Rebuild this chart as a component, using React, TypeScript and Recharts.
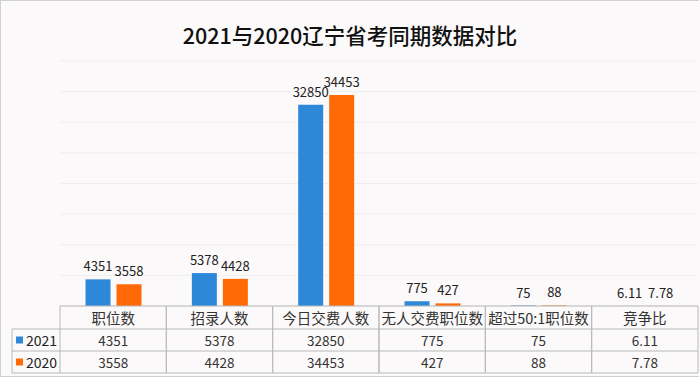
import React from 'react';
import { BarChart, Bar, XAxis, YAxis, CartesianGrid, LabelList } from 'recharts';

const categories = ['职位数', '招录人数', '今日交费人数', '无人交费职位数', '超过50:1职位数', '竞争比'];
const values2021 = [4351, 5378, 32850, 775, 75, 6.11];
const values2020 = [3558, 4428, 34453, 427, 88, 7.78];
const seriesNames = ['2021', '2020'];
const yTicks = [0, 5000, 10000, 15000, 20000, 25000, 30000, 35000, 40000];
const title = '2021与2020辽宁省考同期数据对比';

const data = categories.map((c, i) => ({ name: c, y2021: values2021[i], y2020: values2020[i] }));

const W = 700;
const H = 377;
const M = { top: 61, right: 2, left: 60, bottom: 0 };
const AXIS_H = 71;
const COL_W = (W - M.left - M.right) / categories.length;
const BLUE = '#2E88DA';
const ORANGE = '#FF6A07';
const LINE = '#b9b9b9';
const FONT = '"Noto Sans CJK SC", "Noto Sans", sans-serif';

const TableTick = (props: any) => {
  const { x, payload, index } = props;
  const top = H - AXIS_H;
  const r1 = top + 23;
  const r2 = r1 + 22;
  const r3 = r2 + 22;
  const l = x - COL_W / 2;
  const r = x + COL_W / 2;
  const i = payload.index ?? index;
  return (
    <g fontFamily={FONT}>
      <line x1={l} y1={top} x2={r} y2={top} stroke={LINE} />
      <line x1={l} y1={r1} x2={r} y2={r1} stroke={LINE} />
      <line x1={l} y1={r2} x2={r} y2={r2} stroke={LINE} />
      <line x1={l} y1={r3} x2={r} y2={r3} stroke={LINE} />
      <line x1={l} y1={top} x2={l} y2={r3} stroke={LINE} />
      <line x1={r} y1={top} x2={r} y2={r3} stroke={LINE} />
      <text x={x} y={(top + r1) / 2} textAnchor="middle" dominantBaseline="central" fontSize={14.5} fill="#333">
        {payload.value}
      </text>
      <text x={x} y={(r1 + r2) / 2} textAnchor="middle" dominantBaseline="central" fontSize={13.5} fill="#333">
        {values2021[i]}
      </text>
      <text x={x} y={(r2 + r3) / 2} textAnchor="middle" dominantBaseline="central" fontSize={13.5} fill="#333">
        {values2020[i]}
      </text>
      {i === 0 && (
        <g>
          <line x1={12} y1={r1} x2={l} y2={r1} stroke={LINE} />
          <line x1={12} y1={r2} x2={l} y2={r2} stroke={LINE} />
          <line x1={12} y1={r3} x2={l} y2={r3} stroke={LINE} />
          <line x1={12} y1={r1} x2={12} y2={r3} stroke={LINE} />
          <rect x={16} y={(r1 + r2) / 2 - 3.5} width={7} height={7} fill={BLUE} />
          <rect x={16} y={(r2 + r3) / 2 - 3.5} width={7} height={7} fill={ORANGE} />
          <text x={26} y={(r1 + r2) / 2} dominantBaseline="central" fontSize={14} fill="#222">
            {seriesNames[0]}
          </text>
          <text x={26} y={(r2 + r3) / 2} dominantBaseline="central" fontSize={14} fill="#222">
            {seriesNames[1]}
          </text>
        </g>
      )}
    </g>
  );
};

export default function App() {
  return (
    <div style={{ position: 'fixed', left: 0, top: 0, width: W, height: H, background: '#fbf9f9' }}>
      <div
        style={{
          position: 'absolute',
          left: 0,
          top: 20,
          width: W,
          textAlign: 'center',
          fontFamily: FONT,
          fontSize: 21.5,
          fontWeight: 500,
          color: '#111',
          lineHeight: '30px',
        }}
      >
        {title}
      </div>
      <div style={{ position: 'absolute', left: 0, top: 0, width: W - 2, height: H - 2, border: '1px solid #d0d0d0', borderRight: 'none' }} />
      <div style={{ position: 'absolute', left: 0, top: 0 }}>
        <BarChart width={W} height={H} data={data} margin={M} barGap={6} barCategoryGap="24%">
          <CartesianGrid vertical={false} stroke="#f1eded" />
          <YAxis hide domain={[0, 40000]} ticks={yTicks} />
          <XAxis
            dataKey="name"
            height={AXIS_H}
            axisLine={false}
            tickLine={false}
            interval={0}
            tick={<TableTick />}
          />
          <Bar dataKey="y2021" fill={BLUE} isAnimationActive={false}>
            <LabelList dataKey="y2021" position="top" offset={8} fontSize={13} fill="#222" fontFamily={FONT} />
          </Bar>
          <Bar dataKey="y2020" fill={ORANGE} isAnimationActive={false}>
            <LabelList dataKey="y2020" position="top" offset={8} fontSize={13} fill="#222" fontFamily={FONT} />
          </Bar>
        </BarChart>
      </div>
    </div>
  );
}
